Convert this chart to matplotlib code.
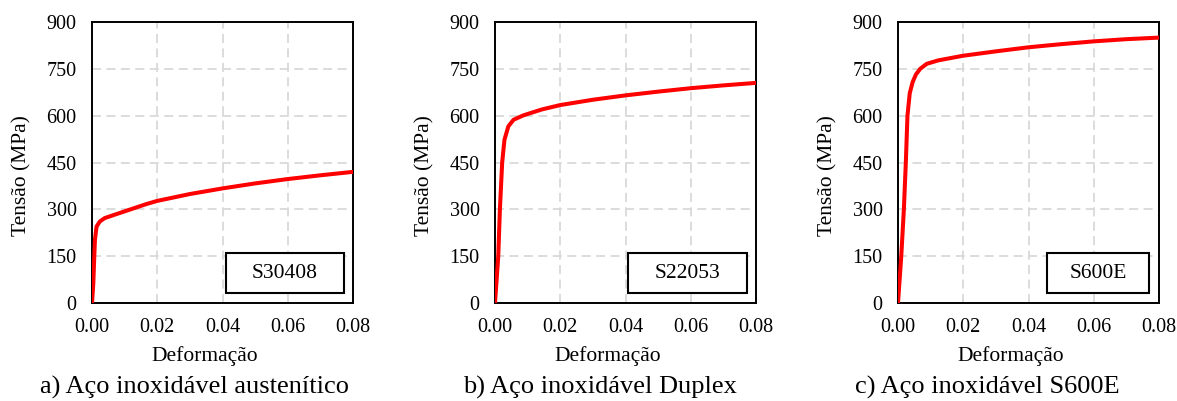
import matplotlib.pyplot as plt
from matplotlib.patches import Rectangle

plt.rcParams["font.family"] = ["Liberation Serif", "DejaVu Serif"]

# leituras do gráfico (deformação, tensão em MPa)
strain_a = [0, 0.0004, 0.0007, 0.0009, 0.0014, 0.0024, 0.0039, 0.007, 0.011, 0.0167,
            0.02, 0.03, 0.04, 0.05, 0.06, 0.07, 0.08]
stress_a = [0, 63, 150, 202, 245, 261, 272, 283, 297, 317,
            327, 349, 367, 383, 397, 409, 420]

strain_b = [0, 0.001, 0.0015, 0.0022, 0.0029, 0.0041, 0.0057, 0.0087, 0.0144,
            0.02, 0.03, 0.04, 0.05, 0.06, 0.07, 0.08]
stress_b = [0, 150, 300, 450, 523, 566, 587, 601, 620,
            634, 651, 665, 677, 688, 697, 705]

strain_c = [0, 0.001, 0.0018, 0.0024, 0.0029, 0.0036, 0.0045, 0.0055, 0.0068, 0.0088,
            0.0123, 0.0174, 0.02, 0.03, 0.04, 0.05, 0.06, 0.07, 0.08]
stress_c = [0, 150, 300, 450, 600, 672, 708, 732, 750, 766,
            777, 787, 792, 806, 819, 829, 838, 845, 850]

labels = ["S30408", "S22053", "S600E"]
captions = ["a) Aço inoxidável austenítico", "b) Aço inoxidável Duplex", "c) Aço inoxidável S600E"]
xticks = [0.00, 0.02, 0.04, 0.06, 0.08]
yticks = [0, 150, 300, 450, 600, 750, 900]

W, H = 1177, 401
fig = plt.figure(figsize=(W / 100, H / 100), dpi=100)

series = [(strain_a, stress_a), (strain_b, stress_b), (strain_c, stress_c)]
lefts = [92, 495, 898]
box_x = [(226, 344), (628, 747), (1047, 1149)]
caption_x = [195, 600, 987]
aw, ah = 261, 281

for i, (x, y) in enumerate(series):
    l = lefts[i]
    ax = fig.add_axes([l / W, (H - 303) / H, aw / W, ah / H])
    ax.plot(x, y, color="#ff0000", lw=2.9, solid_joinstyle="round", solid_capstyle="round", zorder=3)
    ax.set_xlim(0, 0.08)
    ax.set_ylim(0, 900)
    ax.set_xticks(xticks)
    ax.set_xticklabels([f"{t:.2f}" for t in xticks])
    ax.set_yticks(yticks)
    ax.tick_params(axis="x", length=0, labelsize=14.5, pad=11)
    ax.tick_params(axis="y", length=0, labelsize=14.5, pad=11)
    ax.grid(True, color="#d9d9d9", ls=(0, (5, 3)), lw=1.3)
    for s in ax.spines.values():
        s.set_linewidth(1.4)
    ax.set_xlabel("Deformação", fontsize=15.5, va="center")
    ax.xaxis.set_label_coords(0.431, -0.189)
    ax.set_ylabel("Tensão (MPa)", fontsize=15.5, va="center")
    ax.yaxis.set_label_coords(-0.268, 0.452)

    # caixa com o nome do aço
    x0, x1 = box_x[i]
    bx0, bx1 = (x0 - l) / aw, (x1 - l) / aw
    by0, by1 = (303 - 293) / ah, (303 - 253) / ah
    ax.add_patch(Rectangle((bx0, by0), bx1 - bx0, by1 - by0, transform=ax.transAxes,
                           fc="white", ec="black", lw=1.5, zorder=4))
    ax.text((bx0 + bx1) / 2, (by0 + by1) / 2, labels[i], transform=ax.transAxes,
            ha="center", va="center", fontsize=15.5, zorder=5)

    fig.text(caption_x[i] / W, 1 - 387 / H, captions[i], ha="center", va="center", fontsize=19)

fig.savefig("out.png", dpi=100)
